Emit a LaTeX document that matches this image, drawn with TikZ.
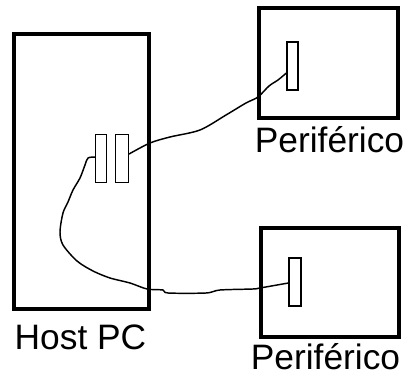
\documentclass[tikz,border=0pt]{standalone}
\usepackage{fontspec}
\setmainfont{Liberation Sans}
\begin{document}
\begin{tikzpicture}[x=0.75pt,y=-0.75pt,
  unit/.style={draw, line width=2.5pt, rectangle, inner sep=0pt},
  port/.style={draw, line width=0.9pt, rectangle, inner sep=0pt},
  cable/.style={line width=1.1pt, line join=round, line cap=round},
  caption/.style={anchor=base, inner sep=0pt, font=\fontsize{26.5pt}{29pt}\selectfont}]
\useasboundingbox (0,0) rectangle (412,381);

% host computer and its two ports
\node[unit, minimum width=101.25pt, minimum height=206.25pt] (host) at (81.5,171.5) {};
\node[port, minimum width=8.25pt, minimum height=36pt] (hp1) at (101,158.5) {};
\node[port, minimum width=9.75pt, minimum height=36pt] (hp2) at (122,158.5) {};
\node[caption] (hostlbl) at (80.5,350) {Host PC};

% upper peripheral
\node[unit, minimum width=104.25pt, minimum height=82.5pt] (dev1) at (328.5,63) {};
\node[port, minimum width=8.25pt, minimum height=36pt] (dp1) at (292.5,66) {};
\node[caption] (dev1lbl) at (329.5,153) {Periférico};

% lower peripheral
\node[unit, minimum width=103.5pt, minimum height=81.75pt] (dev2) at (330,282.5) {};
\node[port, minimum width=9pt, minimum height=36pt] (dp2) at (295,282) {};
\node[caption] (dev2lbl) at (325.5,370) {Periférico};

% cable from the right host port to the upper peripheral
\draw[cable] plot[smooth, tension=0.5] coordinates {
  ([yshift=3.4pt]hp2.east) (150,143) (170,137) (200,130) (226,115) (246,103)
  (258,97) (269,86) (278,80) ([yshift=-5.25pt]dp1.west)};

% cable from the left host port to the lower peripheral
\draw[cable] plot[smooth, tension=0.5] coordinates {
  ([yshift=1.1pt]hp1.west) (88,158) (85,165) (80,178) (73,190) (68,202) (63,213)
  (60,232) (63,245) (77,261) (93,271) (110,278) (130,283) (147,289)
  (163,290) (168,293) (206,293) (220,290) (253,289) (260,288)
  ([yshift=-0.75pt]dp2.west)};
\end{tikzpicture}
\end{document}
